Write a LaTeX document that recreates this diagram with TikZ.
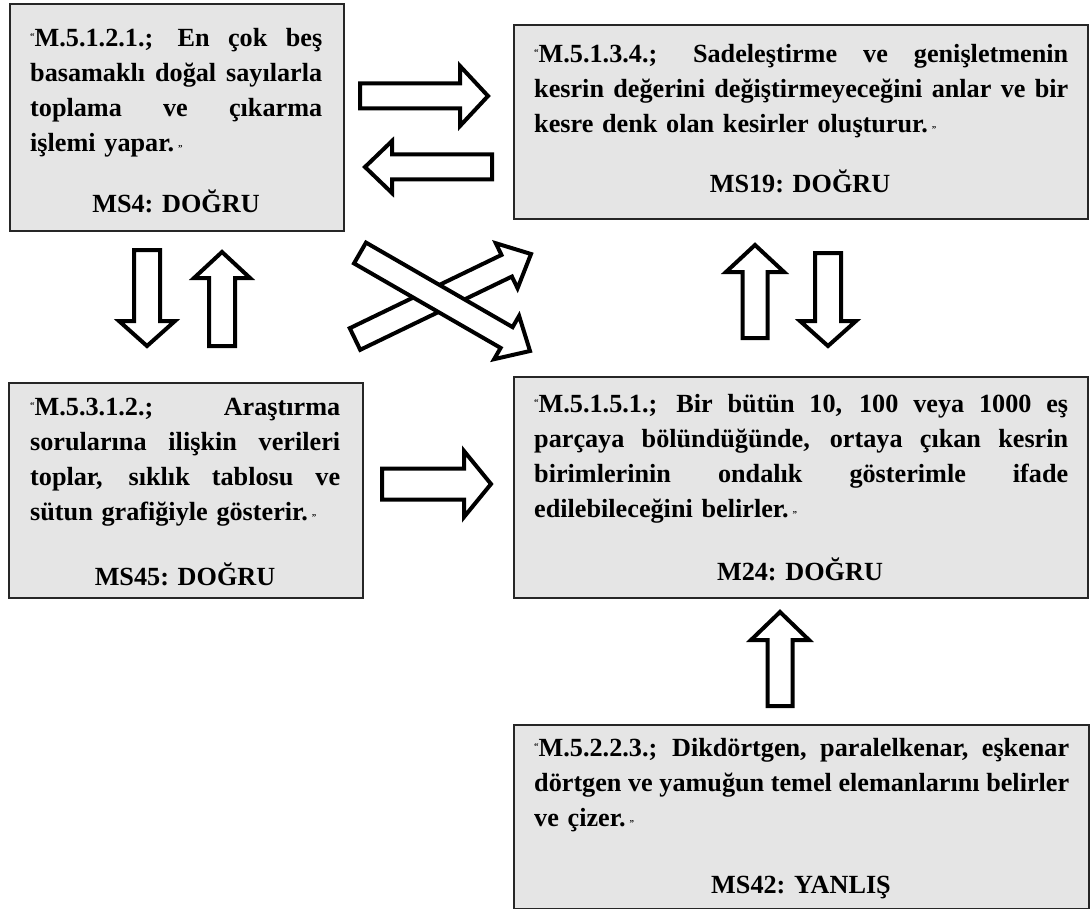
\documentclass[tikz,border=0pt]{standalone}
\usepackage{fontspec}
\setmainfont{Liberation Serif}
\usetikzlibrary{calc}
\newcommand{\J}[1]{\leavevmode\hbox to \hsize{\spaceskip=0.25em plus 1fil\relax #1}}
\newcommand{\oq}{\raisebox{7pt}{\fontsize{9}{9}\selectfont“}}
\newcommand{\cq}{\hspace{4pt}{\fontsize{9}{9}\selectfont”}}
\newcommand{\blockarrow}[5]{%
  \coordinate (ba-t) at #1;
  \coordinate (ba-p) at #2;
  \coordinate (ba-b) at ($(ba-p)!#5!(ba-t)$);
  \draw[barrow] ($(ba-t)!#3!90:(ba-p)$) -- ($(ba-b)!#3!90:(ba-p)$) -- ($(ba-b)!#4!90:(ba-p)$) -- (ba-p)
     -- ($(ba-b)!#4!-90:(ba-p)$) -- ($(ba-b)!#3!-90:(ba-p)$) -- ($(ba-t)!#3!-90:(ba-p)$) -- cycle;
}
\tikzset{
  box/.style={draw=black!85, line width=2pt, fill=black!10, inner sep=0pt, anchor=north west},
  para/.style={inner sep=0pt, anchor=base west, align=left, font=\bfseries\fontsize{26.2}{35}\selectfont},
  ms/.style={inner sep=0pt, anchor=base, font=\bfseries\fontsize{26.2}{35}\selectfont},
  barrow/.style={draw=black, fill=white, line width=4pt, line join=miter},
}
\begin{document}
\begin{tikzpicture}[x=1pt,y=-1pt]
\useasboundingbox (0,0) rectangle (1091,909);
% boxes
\node[box, minimum width=334pt, minimum height=227pt] (b1) at (9,3) {};
\node[box, minimum width=574pt, minimum height=194pt] (b2) at (513,24) {};
\node[box, minimum width=354pt, minimum height=215pt] (b3) at (8,382) {};
\node[box, minimum width=574pt, minimum height=221pt] (b4) at (513,376) {};
\node[box, minimum width=575pt, minimum height=184pt] (b5) at (513,724) {};
% texts
\node[para, text width=292pt] (t1) at (30,47) {\J{\oq M.5.1.2.1.; En çok beş}\\ \J{basamaklı doğal sayılarla}\\ \J{toplama ve çıkarma}\\ işlemi yapar.\cq};
\node[ms] (m1) at (176,213) {MS4: DOĞRU};
\node[para, text width=534pt] (t2) at (534,63) {\J{\oq M.5.1.3.4.; Sadeleştirme ve genişletmenin}\\ \J{kesrin değerini değiştirmeyeceğini anlar ve bir}\\ kesre denk olan kesirler oluşturur.\cq};
\node[ms] (m2) at (800,193) {MS19: DOĞRU};
\node[para, text width=310pt] (t3) at (30,415) {\J{\oq M.5.3.1.2.; Araştırma}\\ \J{sorularına ilişkin verileri}\\ \J{toplar, sıklık tablosu ve}\\ sütun grafiğiyle gösterir.\cq};
\node[ms] (m3) at (185,585) {MS45: DOĞRU};
\node[para, text width=534pt] (t4) at (534,412) {\J{\oq M.5.1.5.1.; Bir bütün 10, 100 veya 1000 eş}\\ \J{parçaya bölündüğünde, ortaya çıkan kesrin}\\ \J{birimlerinin ondalık gösterimle ifade}\\ edilebileceğini belirler.\cq};
\node[ms] (m4) at (800,580) {M24: DOĞRU};
\node[para, text width=535pt] (t5) at (534,756) {\J{\oq M.5.2.2.3.; Dikdörtgen, paralelkenar, eşkenar}\\ \J{dörtgen ve yamuğun temel elemanlarını belirler}\\ ve çizer.\cq};
\node[ms] (m5) at (801,893) {MS42: YANLIŞ};
% block arrows
\blockarrow{(360,96)}{(488,96)}{12.5pt}{30pt}{28pt}
\blockarrow{(492,167)}{(365,167)}{12.5pt}{26pt}{27pt}
\blockarrow{(147,250)}{(147,346)}{13pt}{28pt}{25pt}
\blockarrow{(222,346)}{(222,252)}{13pt}{28pt}{26pt}
\blockarrow{(755,338)}{(755,245)}{12.5pt}{29pt}{27pt}
\blockarrow{(828,253)}{(828,346)}{13pt}{28pt}{25pt}
\blockarrow{(382,484)}{(491,484)}{15.5pt}{33pt}{27pt}
\blockarrow{(780,706)}{(780,612)}{12.5pt}{29pt}{28pt}
\blockarrow{(355,339)}{(531,254)}{12pt}{25pt}{27pt}
\blockarrow{(360,253)}{(530,351)}{12pt}{25pt}{27pt}
\end{tikzpicture}
\end{document}
